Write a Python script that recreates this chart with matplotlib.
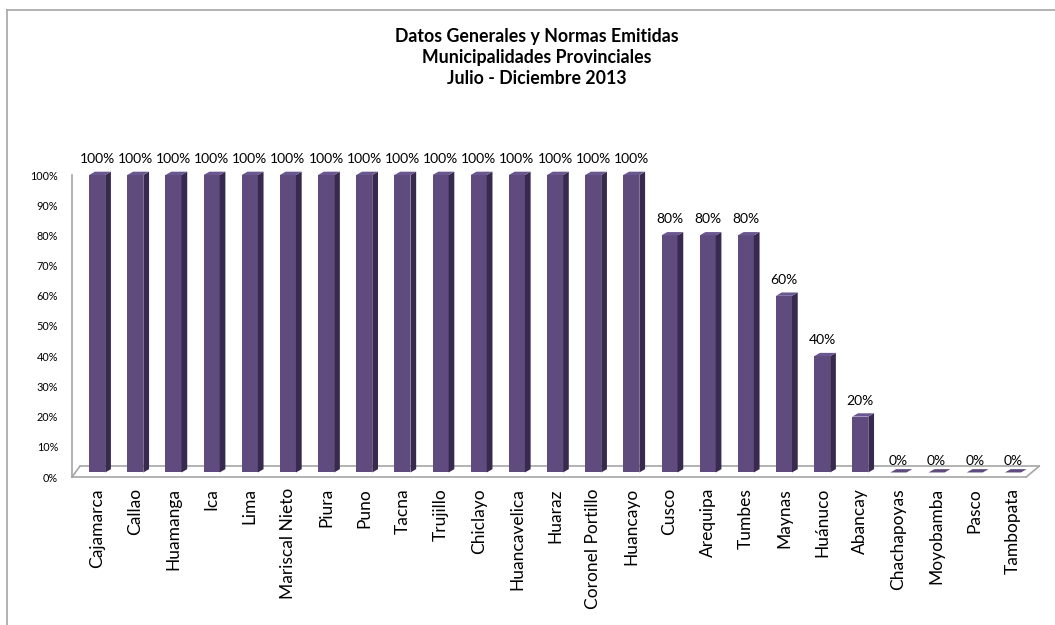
import matplotlib.pyplot as plt
from matplotlib.patches import Polygon
from matplotlib.lines import Line2D

# data
municipios = ['Cajamarca', 'Callao', 'Huamanga', 'Ica', 'Lima', 'Mariscal Nieto',
              'Piura', 'Puno', 'Tacna', 'Trujillo', 'Chiclayo', 'Huancavelica',
              'Huaraz', 'Coronel Portillo', 'Huancayo', 'Cusco', 'Arequipa',
              'Tumbes', 'Maynas', 'Huánuco', 'Abancay', 'Chachapoyas',
              'Moyobamba', 'Pasco', 'Tambopata']
porcentaje = [1.0, 1.0, 1.0, 1.0, 1.0, 1.0, 1.0, 1.0, 1.0, 1.0, 1.0, 1.0, 1.0,
              1.0, 1.0, 0.8, 0.8, 0.8, 0.6, 0.4, 0.2, 0.0, 0.0, 0.0, 0.0]
yticks = [0, 0.1, 0.2, 0.3, 0.4, 0.5, 0.6, 0.7, 0.8, 0.9, 1.0]
titulo = 'Datos Generales y Normas Emitidas\nMunicipalidades Provinciales\nJulio - Diciembre 2013'

plt.rcParams['font.family'] = ['Lato', 'DejaVu Sans']

W, H = 1055, 625
fig = plt.figure(figsize=(W / 100, H / 100), dpi=100)
# axes in pixel box: x 72..1032, y 175..477
ax = fig.add_axes([72 / W, 1 - 477 / H, (1032 - 72) / W, (477 - 175) / H])

front = '#5F4B7E'
side = '#382A4F'
top = '#6B5790'
grey = '#A6A6A6'

bw = 0.42     # front face width
dx = 0.15     # depth in x (data units)
dy = 0.011    # depth in y
base = 0.015

n = len(municipios)
xs = list(range(n))
ax.bar(xs, [max(v - base, 0) for v in porcentaje], bottom=base, width=bw,
       color=front, edgecolor='none', zorder=3)

# floor back line and side edges (behind the bars)
fx0, fx1 = -0.66, 24.5
fdx, fdy = 0.21, 0.036
ax.add_line(Line2D([fx0 + fdx, fx1 + fdx * 0.9], [fdy, fdy], color=grey, lw=1.2,
                   zorder=2, clip_on=False))
ax.add_line(Line2D([fx0, fx0 + fdx], [0, fdy], color=grey, lw=1.2, zorder=2, clip_on=False))
ax.add_line(Line2D([fx1 + fdx * 0.9 - 0.34, fx1 + fdx * 0.9], [0, fdy], color=grey, lw=1.2,
                   zorder=2, clip_on=False))

for x, v in zip(xs, porcentaje):
    l, r = x - bw / 2, x + bw / 2
    t = max(v, base)
    # right side face
    ax.add_patch(Polygon([(r, base), (r + dx, base + dy), (r + dx, t + dy), (r, t)],
                         closed=True, fc=side, ec='none', zorder=3, clip_on=False))
    # top face
    ax.add_patch(Polygon([(l, t), (l + dx, t + dy), (r + dx, t + dy), (r, t)],
                         closed=True, fc=top if v > 0 else front, ec='none',
                         zorder=4, clip_on=False))
    ax.text(x, v + 0.033, '{:.0%}'.format(v), ha='center', va='bottom',
            fontsize=10, color='#000000', clip_on=False)

ax.set_xlim(fx0, fx1)
ax.set_ylim(0, 1.0)
ax.set_yticks(yticks)
ax.set_yticklabels(['{:.0%}'.format(t) for t in yticks], fontsize=7.8)
ax.set_xticks(xs)
ax.set_xticklabels(municipios, rotation=90, fontsize=12.5)
ax.tick_params(axis='both', length=0)
ax.tick_params(axis='y', pad=10)
ax.tick_params(axis='x', pad=8)
for s in ['top', 'right']:
    ax.spines[s].set_visible(False)
ax.spines['left'].set_color(grey)
ax.spines['bottom'].set_color(grey)
ax.spines['bottom'].set_bounds(fx0, fx1 + fdx * 0.9 - 0.34)
ax.spines['left'].set_linewidth(1.2)
ax.spines['bottom'].set_linewidth(1.2)

fig.text(537 / W, 1 - 28 / H, titulo, ha='center', va='top', fontsize=12.8,
         fontweight='bold', linespacing=1.3)

# outer chart border (cut by the image edge)
fig.add_artist(Line2D([7 / W, 1], [1 - 10 / H, 1 - 10 / H], color=grey, lw=1.2))
fig.add_artist(Line2D([7 / W, 7 / W], [0, 1 - 10 / H], color=grey, lw=1.2))

fig.savefig('out.png', dpi=100)
